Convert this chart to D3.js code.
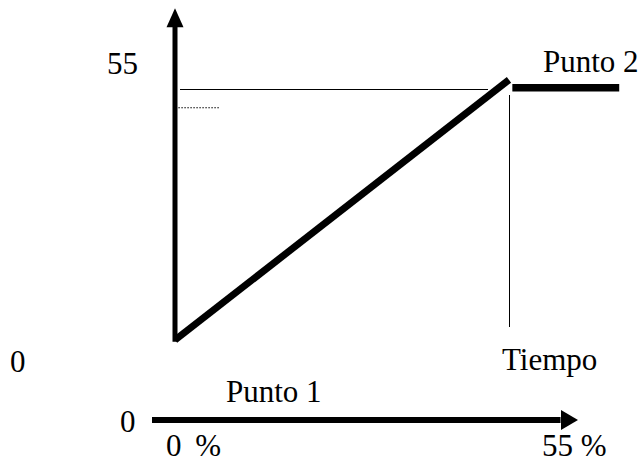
<!DOCTYPE html>
<html><head><meta charset="utf-8">
<script src="https://cdn.jsdelivr.net/npm/d3@7"></script>
<style>body{margin:0;background:#fff}svg{display:block}text{font-family:"Liberation Serif","Times New Roman",serif;font-size:31px;fill:#000}</style>
</head><body><svg id="c" width="640" height="464"></svg>
<script>
// schematic data (time fraction, value)
const ramp = [[0, 0], [1, 57]];
const plateau = [[1.01, 55.3], [1.33, 55.3]];
const refLevel = 55;          // thin horizontal reference
const dotted = [[0.01, 51], [0.135, 51]];
const yTicks = ["55", "0"];
const pctLabels = ["0 %", "55 %"];
const pointLabels = ["Punto 1", "Punto 2"];
const timeLabel = "Tiempo";

const svg = d3.select("#c");
const x = d3.scaleLinear().domain([0, 1]).range([175, 509]);
const y = d3.scaleLinear().domain([0, 55]).range([340, 89]);
const p = d3.scaleLinear().domain([0, 55]).range([152, 572]);
const line = d3.line().x(d => x(d[0])).y(d => y(d[1]));

// vertical axis
svg.append("line").attr("x1", x(0)).attr("x2", x(0)).attr("y1", y(-0.4)).attr("y2", y(69))
  .attr("stroke", "#000").attr("stroke-width", 5);
const tipY = y(72.7);
svg.append("path").attr("d", `M${x(0)},${tipY}L${x(0)-8.5},${tipY+19}L${x(0)+8.5},${tipY+19}Z`).attr("fill", "#000");

// thin reference lines
svg.append("line").attr("x1", x(0.015)).attr("x2", x(0.936)).attr("y1", y(refLevel) + 0.5).attr("y2", y(refLevel) + 0.5)
  .attr("stroke", "#000").attr("stroke-width", 1).attr("shape-rendering", "crispEdges");
svg.append("path").attr("d", line(dotted)).attr("stroke", "#000").attr("stroke-width", 1.2)
  .attr("stroke-dasharray", "1.5,1.5").attr("fill", "none").attr("transform", "translate(0,0.5)");
svg.append("line").attr("x1", x(1) + 0.5).attr("x2", x(1) + 0.5).attr("y1", y(53.7)).attr("y2", y(2.85))
  .attr("stroke", "#000").attr("stroke-width", 1).attr("shape-rendering", "crispEdges");

// ramp and plateau
svg.append("path").attr("d", line(ramp)).attr("stroke", "#000").attr("stroke-width", 7).attr("fill", "none");
svg.append("path").attr("d", line(plateau)).attr("stroke", "#000").attr("stroke-width", 7.5).attr("fill", "none");

// bottom percent axis
const ay = 420;
svg.append("line").attr("x1", p(0)).attr("x2", p(53.5)).attr("y1", ay).attr("y2", ay)
  .attr("stroke", "#000").attr("stroke-width", 6);
const tipX = p(55) + 6;
svg.append("path").attr("d", `M${tipX},${ay}L${tipX-17},${ay-10}L${tipX-17},${ay+10}Z`).attr("fill", "#000");

// labels
svg.append("text").attr("x", 107).attr("y", 74).text(yTicks[0]);
svg.append("text").attr("x", 10).attr("y", 372).text(yTicks[1]);
svg.append("text").attr("x", 543).attr("y", 72).text(pointLabels[1]);
svg.append("text").attr("x", 502).attr("y", 370).text(timeLabel);
svg.append("text").attr("x", 226).attr("y", 402).text(pointLabels[0]);
svg.append("text").attr("x", 120).attr("y", 432).text(yTicks[1]);
svg.append("text").attr("x", 166).attr("y", 456).attr("word-spacing", "6").attr("xml:space","preserve").text(pctLabels[0]);
svg.append("text").attr("x", 542).attr("y", 456).text(pctLabels[1]);
</script></body></html>
